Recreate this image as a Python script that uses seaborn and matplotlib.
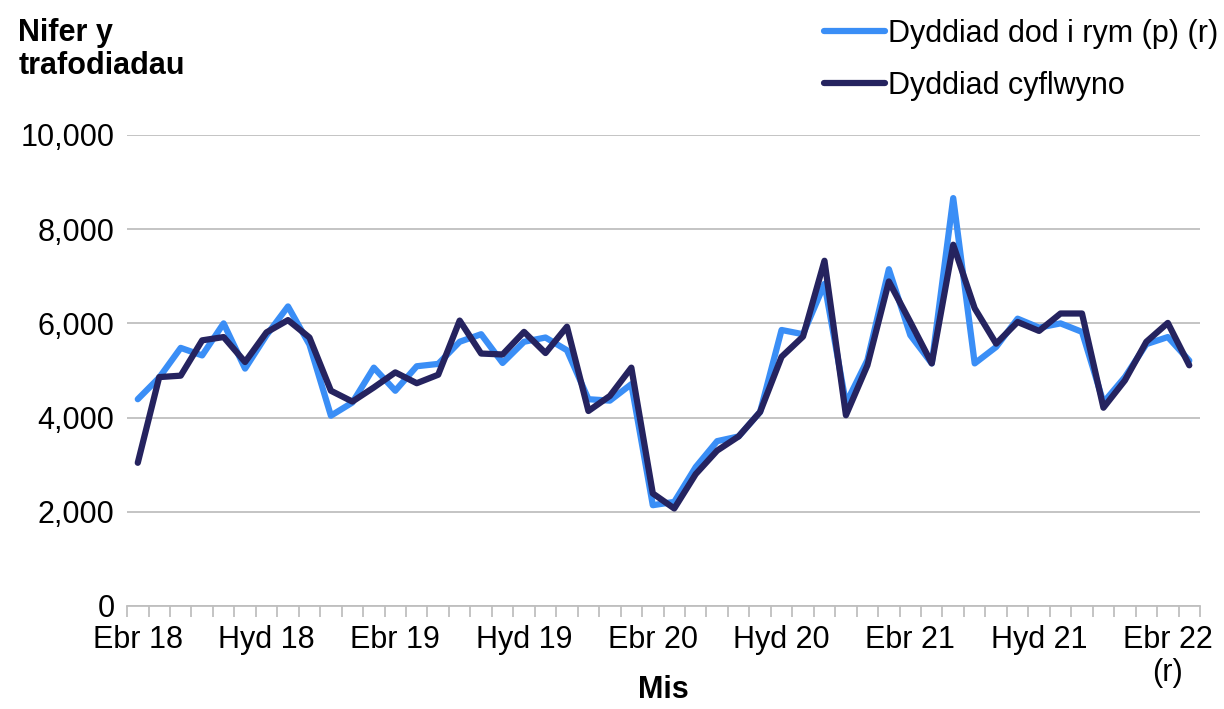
import numpy as np
import pandas as pd
import seaborn as sns
import matplotlib
import matplotlib.pyplot as plt

matplotlib.use("agg")

# monthly values, Apr 2018 - May 2022
dod_i_rym = [4390, 4850, 5480, 5320, 6000, 5040, 5750, 6360, 5550, 4040,
             4320, 5060, 4570, 5090, 5140, 5610, 5770, 5160, 5610, 5700,
             5430, 4390, 4360, 4710, 2140, 2210, 2950, 3500, 3600, 4120,
             5860, 5770, 6840, 4300, 5220, 7150, 5750, 5150, 8660, 5150,
             5500, 6100, 5910, 6000, 5820, 4320, 4860, 5560, 5710, 5210]
cyflwyno = [3040, 4860, 4890, 5640, 5710, 5180, 5810, 6070, 5700, 4570,
            4340, 4640, 4960, 4730, 4910, 6060, 5360, 5340, 5820, 5370,
            5930, 4140, 4460, 5060, 2390, 2070, 2800, 3300, 3600, 4120,
            5290, 5720, 7330, 4050, 5110, 6890, 6030, 5150, 7670, 6320,
            5570, 6030, 5840, 6210, 6210, 4210, 4790, 5610, 6010, 5110]
tick_pos = [0, 6, 12, 18, 24, 30, 36, 42, 48]
tick_labels = ["Ebr 18", "Hyd 18", "Ebr 19", "Hyd 19", "Ebr 20",
               "Hyd 20", "Ebr 21", "Hyd 21", "Ebr 22\n(r)"]
series_names = ["Dyddiad dod i rym (p) (r)", "Dyddiad cyflwyno"]

months = np.arange(len(cyflwyno))
df = pd.DataFrame({
    "mis": np.concatenate([months, months]),
    "nifer": dod_i_rym + cyflwyno,
    "cyfres": [series_names[0]] * len(months) + [series_names[1]] * len(months),
})

sns.set_theme(style="white")
plt.rcParams["font.family"] = ["Liberation Sans", "DejaVu Sans"]
plt.rcParams["text.color"] = "black"
plt.rcParams["axes.labelcolor"] = "black"
grey = "#BFBFBF"
fs = 22

fig = plt.figure(figsize=(12.24, 7.09), dpi=100)
ax = fig.add_axes([0.1038, 0.1453, 0.8766, 0.6643])

sns.lineplot(data=df, x="mis", y="nifer", hue="cyfres",
             palette=["#3A8EF6", "#25235F"], linewidth=4.5,
             hue_order=series_names, ax=ax, legend=True)

ax.set_xlim(-0.5, len(months) - 0.5)
ax.set_ylim(0, 10000)
ax.set_yticks(range(0, 10001, 2000))
ax.set_yticklabels([f"{v:,}" for v in range(0, 10001, 2000)], fontsize=fs)
ax.yaxis.grid(True, color=grey, linewidth=1.3)
ax.set_axisbelow(True)

ax.set_xticks(tick_pos)
ax.set_xticklabels(tick_labels, fontsize=fs, va="top", linespacing=1.1)
ax.set_xticks(np.arange(-0.5, len(months), 1), minor=True)
ax.tick_params(axis="x", which="major", length=0, pad=14, colors="black")
ax.tick_params(axis="x", which="minor", length=8, width=1.3, color=grey,
               direction="out", bottom=True)
ax.tick_params(axis="y", length=0, pad=9, colors="black")

for s in ["top", "right", "left"]:
    ax.spines[s].set_visible(False)
ax.spines["bottom"].set_color(grey)
ax.spines["bottom"].set_linewidth(1.3)

ax.set_xlabel("Mis", fontsize=fs, fontweight="bold", labelpad=-9)
ax.set_ylabel("")
fig.text(0.015, 0.975, "Nifer y\ntrafodiadau", fontsize=fs, fontweight="bold",
         ha="left", va="top", linespacing=1.15)

ax.legend(loc="upper left", bbox_to_anchor=(0.668, 0.982),
          bbox_transform=fig.transFigure, frameon=False, borderaxespad=0,
          borderpad=0.2, fontsize=fs, handlelength=2.0, handletextpad=0.1,
          labelspacing=0.72)

fig.savefig("out.png", dpi=100)
